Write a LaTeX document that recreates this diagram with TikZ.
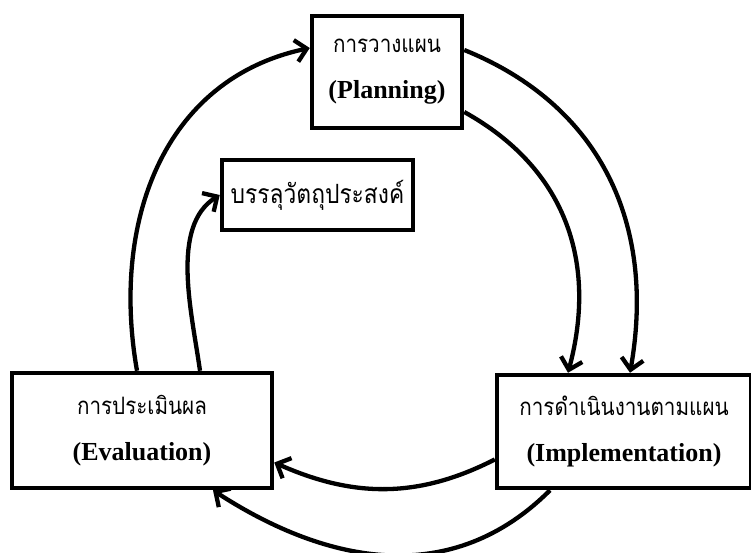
\documentclass[tikz,border=0pt]{standalone}
\usepackage{fontspec}
\setmainfont{Liberation Serif}
\newfontfamily\thaifont[Script=Thai, FakeStretch=0.86]{Loma}
\usetikzlibrary{arrows.meta}

\begin{document}
\begin{tikzpicture}[
  x=1pt, y=1pt, >={Straight Barb[length=11pt,width=22pt]},
  box/.style={draw, line width=4.5pt, align=center, inner sep=0pt,
    font=\fontsize{26}{46}\selectfont},
  th/.style={font=\thaifont\fontsize{26.5}{30}\selectfont},
  arr/.style={->, line width=4.3pt}]
\useasboundingbox (0,0) rectangle (751,552);
% the four stages
\node[box, minimum width=150pt, minimum height=112pt] (plan) at (387,480)
  {{\thaifont\fontsize{24}{26}\selectfont การวางแผน}\\\textbf{(Planning)}};
\node[box, th, minimum width=191pt, minimum height=70pt] (goal) at (317.5,357)
  {บรรลุวัตถุประสงค์};
\node[box, minimum width=260pt, minimum height=115pt] (eval) at (142,121.5)
  {{\thaifont\fontsize{24}{26}\selectfont การประเมินผล}\\\textbf{(Evaluation)}};
\node[box, minimum width=254pt, minimum height=113pt] (impl) at (624,120.5)
  {{\thaifont\fontsize{24}{26}\selectfont การดำเนินงานตามแผน}\\\textbf{(Implementation)}};
% outer cycle
\draw[arr] ([xshift=-5pt]eval.north) to[out=100, in=192, looseness=1.05] ([yshift=24pt]plan.west);
\draw[arr] ([yshift=22pt]plan.east) to[out=-22, in=80, looseness=1.05] ([xshift=6pt]impl.north);
\draw[arr] ([xshift=-74pt]impl.south) to[out=225, in=-33, looseness=1.05] ([xshift=71pt]eval.south);
% inner cycle
\draw[arr] ([yshift=-40pt]plan.east) to[out=-29, in=75, looseness=1.05] ([xshift=-56pt]impl.north);
\draw[arr] ([yshift=-28pt]impl.west) to[out=207, in=-24] ([yshift=-32pt]eval.east);
\draw[arr] ([xshift=58pt]eval.north) to[out=98, in=212, looseness=0.85] (goal.west);
\end{tikzpicture}
\end{document}
